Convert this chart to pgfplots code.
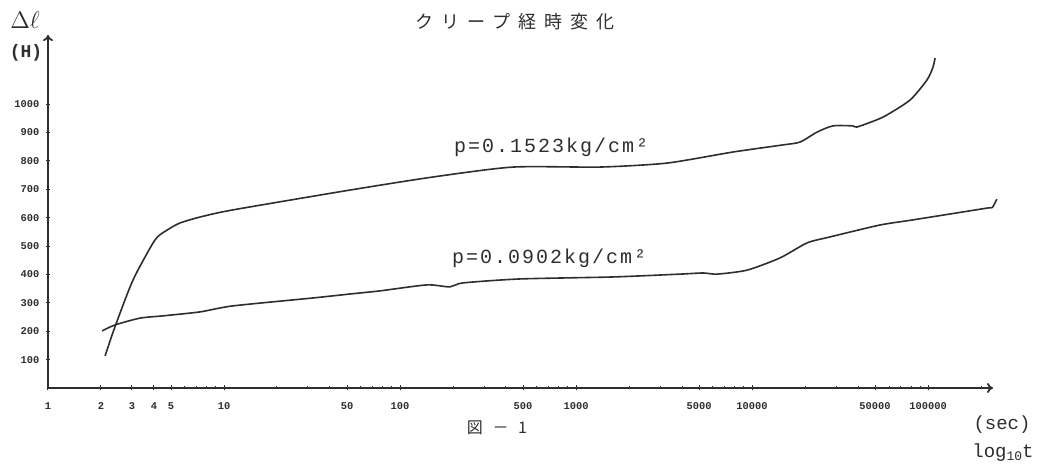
\documentclass[border=0pt]{standalone}
\usepackage{pgfplots}
\pgfplotsset{compat=1.18}
\usetikzlibrary{arrows.meta}
\usepackage{fontspec}
\setmonofont{Liberation Mono}
\newfontfamily\cjk{Noto Sans CJK JP}
\newfontfamily\cjktitle[LetterSpace=45]{Noto Sans CJK JP}
\newfontfamily\cjkfig[LetterSpace=60]{Noto Sans CJK JP}
\newfontfamily\plabel[LetterSpace=10]{Liberation Mono}
\definecolor{ink}{HTML}{2E2E2E}
\begin{document}
\begin{tikzpicture}
\useasboundingbox[fill=white] (0,0) rectangle (527pt,235pt);
\begin{axis}[
  at={(24pt,41pt)}, anchor=south west,
  scale only axis, width=472.5pt, height=176.5pt,
  xmode=log, log basis x=10,
  xmin=1, xmax=233900, ymin=0, ymax=1243,
  axis lines=left, clip=false,
  axis line style={line width=0.9pt, ink, -{To[length=3pt,width=5pt]}},
  xtick={1,2,3,4,5,10,50,100,500,1000,5000,10000,50000,100000},
  xticklabels={1,2,3,4,5,10,50,100,500,1000,5000,10000,50000,100000},
  minor xtick={6,7,8,9,20,30,40,60,70,80,90,200,300,400,600,700,800,900,2000,3000,4000,6000,7000,8000,9000,20000,30000,40000,60000,70000,80000,90000,200000},
  ytick={100,200,300,400,500,600,700,800,900,1000},
  yticklabels={100,200,300,400,500,600,700,800,900,1000},
  tick align=center, major tick length=2.5pt, minor tick length=1.5pt,
  tick style={ink, line width=0.5pt},
  every tick label/.append style={font=\fontsize{5.2}{6}\selectfont\ttfamily\bfseries, text=ink},
  xticklabel style={yshift=-2.5pt},
  yticklabel style={xshift=0.5pt},
]
\addplot[ink, line width=0.8pt, smooth, tension=0.4] coordinates {
(2.11,113) (2.40,215) (3.04,380) (4.05,521) (4.75,556) (5.62,581) (7.31,602)
(11.2,627) (52,697) (154,743) (439,778) (1368,778) (3290,792) (7800,831)
(15000,856) (18740,866) (23400,901) (28800,923) (37500,923) (39500,919)
(55500,954) (79000,1014) (98700,1085) (106700,1130) (109600,1162)
};
\addplot[ink, line width=0.8pt, smooth, tension=0.4] coordinates {
(2.03,201) (2.40,222) (3.33,246) (4.50,254) (7.31,268) (11.2,289) (32,317)
(52,331) (77,342) (142,363) (192,356) (228,370) (481,384) (1622,391)
(3900,401) (5270,405) (6330,401) (9370,415) (14420,458) (20550,511)
(27750,532) (53400,574) (82200,592) (158000,620) (219000,634) (232000,636) (246000,665)
};
\node[font=\fontsize{10}{12}\selectfont\plabel, text=ink] at (axis cs:721,849) {p=0.1523kg/cm²};
\node[font=\fontsize{10}{12}\selectfont\plabel, text=ink] at (axis cs:703,458) {p=0.0902kg/cm²};
\end{axis}
\node[text=ink, font=\fontsize{9}{11}\selectfont\cjktitle] at (257.5pt,224pt) {クリープ経時変化};
\node[text=ink, font=\fontsize{13}{14}\selectfont] at (12.5pt,225pt) {$\Delta\ell$};
\node[text=ink, font=\fontsize{9}{11}\selectfont\ttfamily\bfseries] at (13pt,208.5pt) {(H)};
\node[text=ink, font=\fontsize{8}{10}\selectfont\cjkfig] at (248.5pt,21pt) {図－1};
\node[text=ink, font=\fontsize{9.5}{11}\selectfont\ttfamily] at (501pt,22.5pt) {(sec)};
\node[text=ink, font=\fontsize{9.5}{11}\selectfont\ttfamily] at (501.5pt,8.5pt) {log\raisebox{-0.25ex}{\fontsize{6.5}{7}\selectfont 10}t};
\end{tikzpicture}
\end{document}
